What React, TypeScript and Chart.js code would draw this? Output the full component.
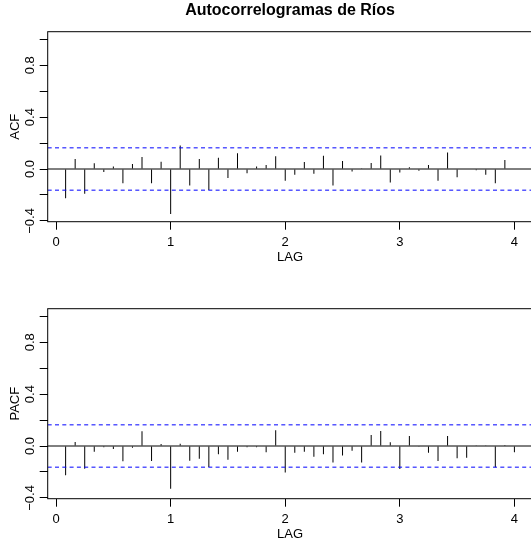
import { useEffect, useRef } from "react";
import { Chart, registerables } from "chart.js";

Chart.register(...registerables);

// Lags in months (frequency 12 -> plotted in years)
const lagMonths = [
  1, 2, 3, 4, 5, 6, 7, 8, 9, 10, 11, 12,
  13, 14, 15, 16, 17, 18, 19, 20, 21, 22, 23, 24,
  25, 26, 27, 28, 29, 30, 31, 32, 33, 34, 35, 36,
  37, 38, 39, 40, 41, 42, 43, 44, 45, 46, 47, 48,
];
const frequency = 12;

const acfValues = [
  -0.226, 0.077, -0.19, 0.044, -0.023, 0.02, -0.11, 0.039, 0.092, -0.11, 0.056, -0.347,
  0.182, -0.128, 0.077, -0.162, 0.087, -0.069, 0.121, -0.033, 0.02, 0.031, 0.098, -0.09,
  -0.044, 0.054, -0.036, 0.103, -0.128, 0.062, -0.02, 0.005, 0.046, 0.105, -0.103, -0.026,
  0.013, -0.013, 0.031, -0.09, 0.128, -0.064, 0.003, -0.01, -0.044, -0.11, 0.069, 0.003,
];

const pacfValues = [
  -0.226, 0.031, -0.175, -0.044, -0.01, -0.023, -0.118, -0.013, 0.113, -0.116, 0.015, -0.329,
  0.018, -0.113, -0.098, -0.162, -0.064, -0.105, -0.044, -0.01, -0.01, -0.049, 0.121, -0.205,
  -0.051, -0.044, -0.082, -0.064, -0.128, -0.074, -0.036, -0.128, 0.085, 0.116, 0.028, -0.177,
  0.077, -0.005, -0.051, -0.116, 0.077, -0.095, -0.09, 0.005, 0.005, -0.164, 0.008, -0.049,
];

const confBound = 0.163;
const xTickValues = [0, 1, 2, 3, 4];
const yTickValues = [-0.4, -0.2, 0, 0.2, 0.4, 0.6, 0.8, 1.0];
const yLabelValues = [-0.4, 0, 0.4, 0.8];
const yLabelTexts = ["\u22120.4", "0.0", "0.4", "0.8"];
const titleText = "Autocorrelogramas de Ríos";
const xAxisTitle = "LAG";

const X_MIN = -0.073;
const X_MAX = 4.157;
const Y_MIN = -0.406;
const Y_MAX = 1.058;

const CANVAS_W = 545;
const CANVAS_H = 277;
const FONT = '"Liberation Sans", Arial, Helvetica, sans-serif';

function makeDecor(ylabel: string, title: string | null) {
  return {
    id: "panelDecor",
    afterDraw(chart: any) {
      const { ctx, chartArea, scales } = chart;
      const { left, top, right, bottom } = chartArea;
      const x = scales.x;
      const y = scales.y;
      ctx.save();
      ctx.strokeStyle = "#000";
      ctx.lineWidth = 1;
      ctx.strokeRect(left, top, right - left, bottom - top);
      ctx.fillStyle = "#000";
      ctx.font = `13px ${FONT}`;
      ctx.textAlign = "center";
      ctx.textBaseline = "middle";
      xTickValues.forEach((v) => {
        ctx.fillText(String(v), x.getPixelForValue(v), bottom + 21);
      });
      ctx.fillText(xAxisTitle, (left + right) / 2, bottom + 35.5);
      yLabelValues.forEach((v, i) => {
        ctx.save();
        ctx.translate(30, y.getPixelForValue(v));
        ctx.rotate(-Math.PI / 2);
        ctx.fillText(yLabelTexts[i], 0, 0);
        ctx.restore();
      });
      ctx.save();
      ctx.translate(15, (top + bottom) / 2);
      ctx.rotate(-Math.PI / 2);
      ctx.fillText(ylabel, 0, 0);
      ctx.restore();
      if (title) {
        ctx.font = `bold 16px ${FONT}`;
        ctx.fillText(title, (left + right) / 2, 11);
      }
      ctx.restore();
    },
  };
}

function Panel({ values, ylabel, title }: { values: number[]; ylabel: string; title: string | null }) {
  const ref = useRef<HTMLCanvasElement | null>(null);
  useEffect(() => {
    if (!ref.current) return;
    const lags = lagMonths.map((m) => m / frequency);
    const chart = new Chart(ref.current, {
      type: "bar",
      data: {
        datasets: [
          {
            type: "bar",
            data: lags.map((l, i) => ({ x: l, y: values[i] })),
            backgroundColor: "#000",
            borderWidth: 0,
            barThickness: 1,
            inflateAmount: 0,
            order: 2,
          } as any,
          {
            type: "line",
            data: [
              { x: X_MIN, y: 0 },
              { x: X_MAX, y: 0 },
            ],
            borderColor: "#000",
            borderWidth: 1,
            pointRadius: 0,
            order: 1,
          } as any,
          {
            type: "line",
            data: [
              { x: X_MIN, y: confBound },
              { x: X_MAX, y: confBound },
            ],
            borderColor: "#0000ff",
            borderWidth: 1,
            borderDash: [4, 3.3],
            pointRadius: 0,
            order: 0,
          } as any,
          {
            type: "line",
            data: [
              { x: X_MIN, y: -confBound },
              { x: X_MAX, y: -confBound },
            ],
            borderColor: "#0000ff",
            borderWidth: 1,
            borderDash: [4, 3.3],
            pointRadius: 0,
            order: 0,
          } as any,
        ],
      },
      options: {
        animation: false,
        responsive: false,
        devicePixelRatio: 1,
        layout: { padding: { top: 31.7, right: CANVAS_W - 532.4, left: 0, bottom: 0 } },
        plugins: { legend: { display: false }, tooltip: { enabled: false }, title: { display: false } },
        scales: {
          x: {
            type: "linear",
            min: X_MIN,
            max: X_MAX,
            offset: false,
            afterBuildTicks: (s: any) => {
              s.ticks = xTickValues.map((v) => ({ value: v }));
            },
            afterFit: (s: any) => {
              s.height = CANVAS_H - 221.7;
            },
            ticks: { display: false },
            grid: { offset: false, drawOnChartArea: false, drawTicks: true, tickLength: 8, color: "#000", lineWidth: 1 },
            border: { display: false },
          },
          y: {
            type: "linear",
            min: Y_MIN,
            max: Y_MAX,
            afterBuildTicks: (s: any) => {
              s.ticks = yTickValues.map((v) => ({ value: v }));
            },
            afterFit: (s: any) => {
              s.width = 47.7;
            },
            ticks: { display: false },
            grid: { drawOnChartArea: false, drawTicks: true, tickLength: 8, color: "#000", lineWidth: 1 },
            border: { display: false },
          },
        },
      } as any,
      plugins: [makeDecor(ylabel, title)],
    });
    return () => chart.destroy();
  }, [values, ylabel, title]);
  return <canvas ref={ref} width={CANVAS_W} height={CANVAS_H} style={{ display: "block" }} />;
}

export default function App() {
  return (
    <div
      style={{
        position: "absolute",
        left: 0,
        top: 0,
        width: 531,
        height: 542,
        overflow: "hidden",
        background: "#fff",
      }}
    >
      <div style={{ position: "absolute", left: 0, top: 0 }}>
        <Panel values={acfValues} ylabel="ACF" title={titleText} />
      </div>
      <div style={{ position: "absolute", left: 0, top: 277 }}>
        <Panel values={pacfValues} ylabel="PACF" title={null} />
      </div>
    </div>
  );
}
